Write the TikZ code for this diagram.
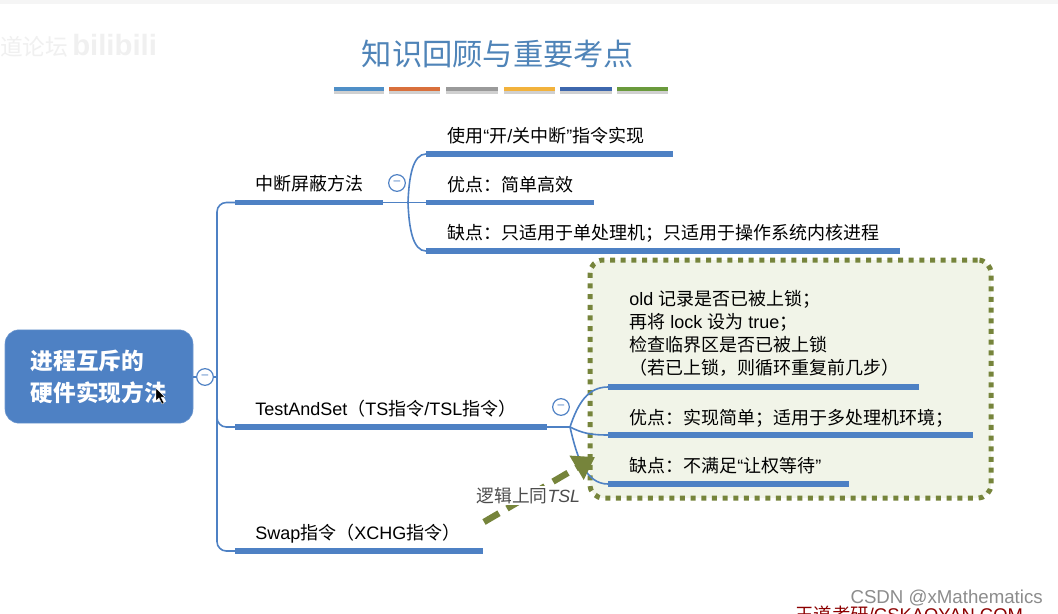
\documentclass[tikz,border=0pt]{standalone}
\usepackage{fontspec}
\setmainfont{Liberation Sans}
\newfontfamily\cjk{Noto Sans CJK SC}
\usetikzlibrary{arrows.meta,shadows}
\definecolor{mapblue}{HTML}{4E81C4}
\definecolor{olive}{HTML}{76843B}
\definecolor{boxfill}{HTML}{F1F4E8}
\definecolor{titleblue}{HTML}{4F84B8}
\tikzset{
  bar/.style={mapblue,line width=3.8pt},
  link/.style={mapblue,line width=1.2pt},
  collapse/.style={circle,draw=mapblue,fill=white,line width=0.9pt,minimum size=12.5pt,inner sep=0pt,font=\fontsize{9}{9}\selectfont,text=mapblue},
  lab/.style={anchor=base west,inner sep=0pt,font=\fontsize{13.5}{16}\selectfont,text=black},
  swatch/.style={line width=3.6pt},
  swshadow/.style={black!30,line width=2pt,opacity=.6}
}
\begin{document}
\begin{tikzpicture}[x=0.75pt,y=-0.75pt]
\clip (0,0) rectangle (1058,614);
\fill[white] (0,0) rectangle (1058,614);
\fill[black!4] (0,0) rectangle (1058,4);
% watermark
\node[anchor=west,inner sep=0pt,text=black!6,font=\fontsize{17}{17}\selectfont] (wm1) at (0,47) {\cjk 道论坛};
\node[anchor=west,inner sep=0pt,text=black!6,font=\bfseries\fontsize{22}{22}\selectfont] (wm2) at (72,45) {bilibili};
% title
\node[inner sep=0pt,text=titleblue,font=\fontsize{22.7}{26}\selectfont] (title) at (498,54) {\cjk 知识回顾与重要考点};
\foreach \a/\b/\c in {334/384/4F8FC7,389/440/D9703C,446/498/9A9A9A,504/555/F2B23C,560/612/3D67AD,617/668/6A9A3C}{
  \draw[swshadow] (\a,92.5) -- (\b,92.5);
  \definecolor{sw}{HTML}{\c}
  \draw[swatch,sw] (\a,89) -- (\b,89);
}
% dotted box
\node[draw=olive,fill=boxfill,line width=3.75pt,dash pattern=on 3.75pt off 4.25pt,rounded corners=10pt,minimum width=300.75pt,minimum height=178.5pt,inner sep=0pt] (box) at (790.5,379) {};
% root
\node[fill=mapblue,draw=mapblue!80!white,rounded corners=10.5pt,minimum width=141pt,minimum height=70pt,inner sep=0pt,align=left,text=white,font=\bfseries\fontsize{17}{24}\selectfont] (root) at (99,376.5) {\cjk 进程互斥的\\\cjk 硬件实现方法};
\node[collapse] (c0) at (205,377) {--};
\node[collapse] (c1) at (397,183) {--};
\node[collapse] (c2) at (561,407) {--};
\coordinate (spine) at (217,377);
% level 1 bars
\coordinate (a1) at (235,202.5); \coordinate (a2) at (383,202.5);
\coordinate (t1) at (235,427); \coordinate (t2) at (547,427);
\coordinate (s1) at (235,551); \coordinate (s2) at (483,551);
\draw[link] (root.east |- c0) -- (c0);
\draw[link] (c0) -- (spine);
\draw[link,rounded corners=7pt] (a1) -- (217,202.5) -- (217,551) -- (s1);
\draw[link,rounded corners=7pt] (217,410) -- (217,427) -- (t1);
\draw[bar] (a1) -- (a2);
\draw[bar] (t1) -- (t2);
\draw[bar] (s1) -- (s2);
% level 2: first group
\coordinate (j1) at (408,202.5);
\coordinate (p1) at (426,154); \coordinate (p1e) at (673,154);
\coordinate (p2) at (426,202.5); \coordinate (p2e) at (594,202.5);
\coordinate (p3) at (426,251); \coordinate (p3e) at (900,251);
\draw[link] (a2) -- (p2);
\draw[link] (j1) .. controls (409,176) and (413,154) .. (p1);
\draw[link] (j1) .. controls (409,229) and (413,251) .. (p3);
\draw[bar] (p1) -- (p1e);
\draw[bar] (p2) -- (p2e);
\draw[bar] (p3) -- (p3e);
% level 2: second group
\coordinate (j2) at (570,427);
\coordinate (q1) at (608,387); \coordinate (q1e) at (919,387);
\coordinate (q2) at (608,435); \coordinate (q2e) at (973,435);
\coordinate (q3) at (608,484); \coordinate (q3e) at (849,484);
\draw[link] (t2) -- (j2);
\draw[link] (j2) .. controls (578,403) and (588,387) .. (q1);
\draw[link] (j2) .. controls (582,433) and (590,435) .. (q2);
\draw[link] (j2) .. controls (577,458) and (586,484) .. (q3);
\draw[bar] (q1) -- (q1e);
\draw[bar] (q2) -- (q2e);
\draw[bar] (q3) -- (q3e);
% labels
\node[lab] (l1) at (255,190) {\cjk 中断屏蔽方法};
\node[lab] (l2) at (255,415) {TestAndSet{\cjk （}TS{\cjk 指令}/TSL{\cjk 指令）}};
\node[lab] (l3) at (255,539) {Swap{\cjk 指令（}XCHG{\cjk 指令）}};
\node[lab] (m1) at (447,142) {{\cjk 使用}“{\cjk 开}/{\cjk 关中断}”{\cjk 指令实现}};
\node[lab] (m2) at (447,191) {\cjk 优点：简单高效};
\node[lab] (m3) at (447,239) {\cjk 缺点：只适用于单处理机；只适用于操作系统内核进程};
\node[lab] (n1) at (629,305) {old {\cjk 记录是否已被上锁；}};
\node[lab] (n2) at (629,328) {{\cjk 再将} lock {\cjk 设为} true{\cjk ；}};
\node[lab] (n3) at (629,351) {\cjk 检查临界区是否已被上锁};
\node[lab] (n4) at (629,374) {\cjk （若已上锁，则循环重复前几步）};
\node[lab] (n5) at (629,424) {\cjk 优点：实现简单；适用于多处理机环境；};
\node[lab] (n6) at (629,472) {{\cjk 缺点：不满足}“{\cjk 让权等待}”};
% dashed arrow
\coordinate (arr1) at (484,522);
\coordinate (arr2) at (595,457);
\draw[olive,line width=4.8pt,dash pattern=on 13pt off 7pt,-{Triangle[length=16pt,width=20pt]}] (arr1) -- (arr2);
\node[fill=white,inner sep=1pt,anchor=base west,text=black!70,font=\fontsize{13.3}{15}\selectfont] (same) at (475,502) {{\cjk 逻辑上同}\textit{TSL}};
% cursor
\fill[black,draw=white,line width=.3pt] (156,388) -- (156,401) -- (159,398) -- (162,404) -- (164,403) -- (161,397) -- (165,397) -- cycle;
% credits
\node[anchor=base east,inner sep=0pt,text=black!45,font=\fontsize{14}{16}\selectfont] (csdn) at (1043,603) {CSDN @xMathematics};
\node[anchor=base west,inner sep=0pt,text=red!55!black,font=\fontsize{13.8}{15}\selectfont] (wd) at (795,621) {{\cjk 王道考研}/CSKAOYAN.COM};
\end{tikzpicture}
\end{document}
